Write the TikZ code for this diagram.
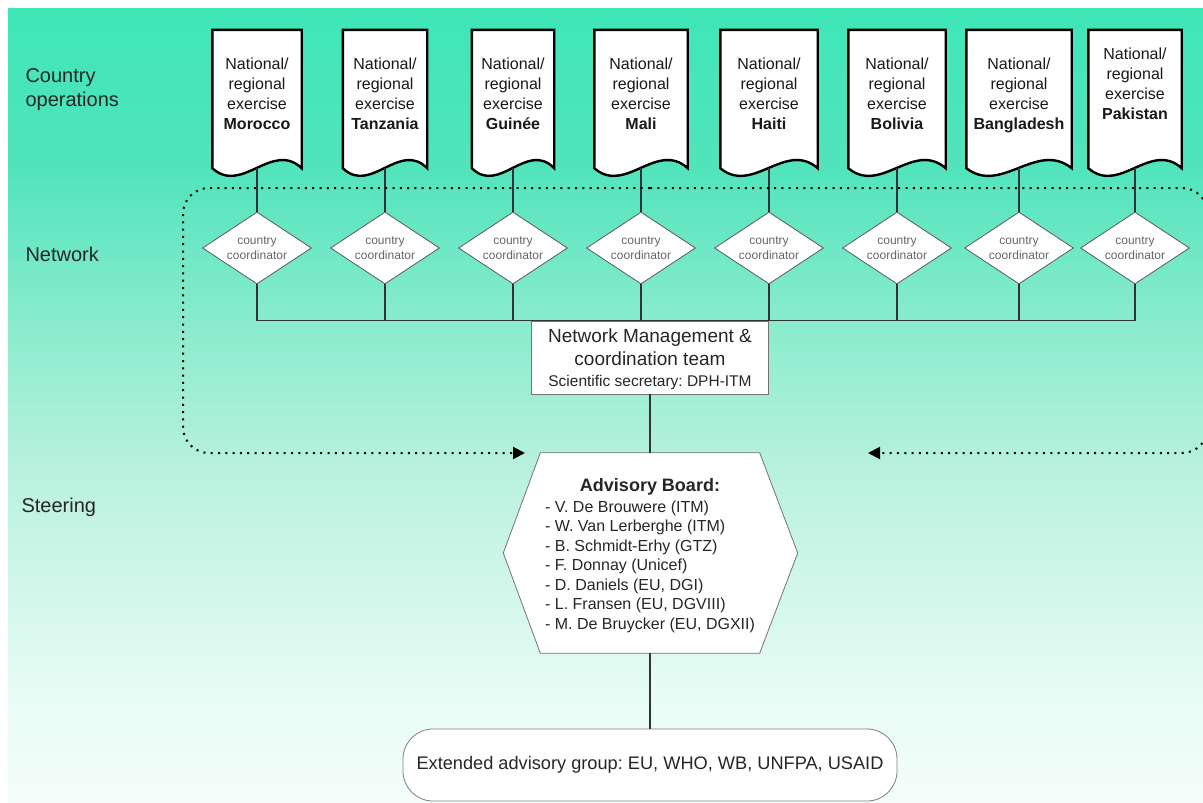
\documentclass[tikz,border=0pt]{standalone}
\usepackage{fontspec}
\setmainfont{Liberation Sans}
\frenchspacing
\usetikzlibrary{shapes.geometric,arrows.meta}
\definecolor{bgtop}{RGB}{62,230,184}
\definecolor{bgc1}{RGB}{82,228,188}
\definecolor{bgc2}{RGB}{140,236,205}
\definecolor{bgc3}{RGB}{185,241,222}
\definecolor{bgc4}{RGB}{232,252,246}
\definecolor{bgbot}{RGB}{245,253,251}
\pgfdeclareverticalshading{bgfade}{100bp}{color(0bp)=(bgbot); color(25bp)=(bgbot); color(31.5bp)=(bgc4); color(45.9bp)=(bgc3); color(54.7bp)=(bgc2); color(64.8bp)=(bgc1); color(75bp)=(bgtop); color(100bp)=(bgtop)}
\pgfdeclarelayer{bg}
\pgfsetlayers{bg,main}

\begin{document}
\begin{tikzpicture}[x=1pt, y=-1pt,
    lbl/.style={anchor=west, align=left, font=\fontsize{20}{24}\selectfont, text=black!85},
    doc/.style={minimum height=138, inner sep=0, align=center, font=\fontsize{16}{20}\selectfont, text=black!90},
    docline/.style={fill=white, draw=black, line width=2.4pt},
    coord/.style={diamond, aspect=1.5, minimum width=109, minimum height=72, inner sep=0, fill=white, draw=black!65, line width=0.8pt, align=center, font=\fontsize{12}{14.5}\selectfont, text=black!60},
    mgmt/.style={minimum width=237, minimum height=73, inner sep=0, fill=white, draw=black!55, line width=0.8pt, align=center, font=\fontsize{19}{23}\selectfont, text=black!85},
    board/.style={minimum width=219, minimum height=200, inner sep=0, font=\fontsize{16}{19.5}\selectfont, text=black!85},
    boardline/.style={fill=white, draw=black!55, line width=0.8pt},
    group/.style={minimum width=494, minimum height=72, inner sep=0, rounded corners=30pt, fill=white, draw=black!50, line width=0.8pt, font=\fontsize{18.2}{22}\selectfont, text=black!85},
    link/.style={draw=black!80, line width=1.6pt},
    fb/.style={draw=black, line width=2pt, dash pattern=on 2pt off 5.3pt, rounded corners=26pt, -{Triangle[length=12pt,width=12pt]}}]
    \useasboundingbox (0,0) rectangle (1203,803);
    % background fade
    \begin{pgfonlayer}{bg}
        \shade[shading=bgfade] (8,8) rectangle (1203,803);
    \end{pgfonlayer}
    % row labels
    \node[lbl] (ops) at (22,90) {Country\\operations};
    \node[lbl] (net) at (22,254) {Network};
    \node[lbl] (steer) at (18,507) {Steering};
    % country exercises and coordinators
    \foreach \i/\cx/\w/\td/\cname in {1/257/89/11pt/Morocco, 2/385/84/11pt/Tanzania, 3/513/82/11pt/Guinée, 4/641/93/11pt/Mali, 5/769/97/11pt/Haiti, 6/897/97/11pt/Bolivia, 7/1019/105/11pt/Bangladesh, 8/1135/93/31pt/Pakistan} {
        \node[doc, minimum width=\w, text depth=\td] (d\i) at (\cx,99) {National/\\regional\\exercise\\\textbf{\cname}};
        \begin{pgfonlayer}{bg}
            \draw[docline] (d\i.south east) -- (d\i.north east) -- (d\i.north west) -- (d\i.south west) .. controls +(\w/3,27) and +(-\w/3,-28) .. (d\i.south east) -- cycle;
        \end{pgfonlayer}
        \node[coord] (c\i) at (\cx,248) {country\\coordinator};
        \draw[link] (d\i.south) -- (c\i.north);
    }
    % network management
    \node[mgmt, text height=60pt, text depth=2pt] (nm) at (650,357.5) {Network Management \&\\coordination team\\[-2pt]{\fontsize{15.5}{19}\selectfont Scientific secretary: DPH-ITM}};
    \draw[link] (c1.south) |- (c8.south |- nm.north) -- (c8.south);
    \foreach \i in {2,...,7}
        \draw[link] (c\i.south) -- (c\i.south |- nm.north);
    % advisory board
    \node[board] (ab) at (650,553) {\raisebox{-8pt}[0pt][0pt]{\begin{tabular}{@{}l@{}}
        \multicolumn{1}{@{}c@{}}{\fontsize{18}{20}\selectfont\bfseries Advisory Board:}\\[1pt]
        - V. De Brouwere (ITM)\\
        - W. Van Lerberghe (ITM)\\
        - B. Schmidt-Erhy (GTZ)\\
        - F. Donnay (Unicef)\\
        - D. Daniels (EU, DGI)\\
        - L. Fransen (EU, DGVIII)\\
        - M. De Bruycker (EU, DGXII)
    \end{tabular}}};
    \begin{pgfonlayer}{bg}
        \draw[boardline] (ab.north west) -- (ab.north east) -- ([xshift=38pt]ab.east) -- (ab.south east) -- (ab.south west) -- ([xshift=-37pt]ab.west) -- cycle;
    \end{pgfonlayer}
    \node[group] (eg) at (650,765) {Extended advisory group: EU, WHO, WB, UNFPA, USAID};
    \draw[link] (nm.south) -- (ab.north);
    \draw[link] (ab.south) -- (eg.north);
    % feedback loop
    \coordinate (fbl) at (525,453);
    \coordinate (fbr) at (868,453);
    \draw[fb] (650,188) -- (183,188) -- (183,453) -- (fbl);
    \draw[fb] (650,188) -- (1208,188) -- (1208,453) -- (fbr);
\end{tikzpicture}
\end{document}
